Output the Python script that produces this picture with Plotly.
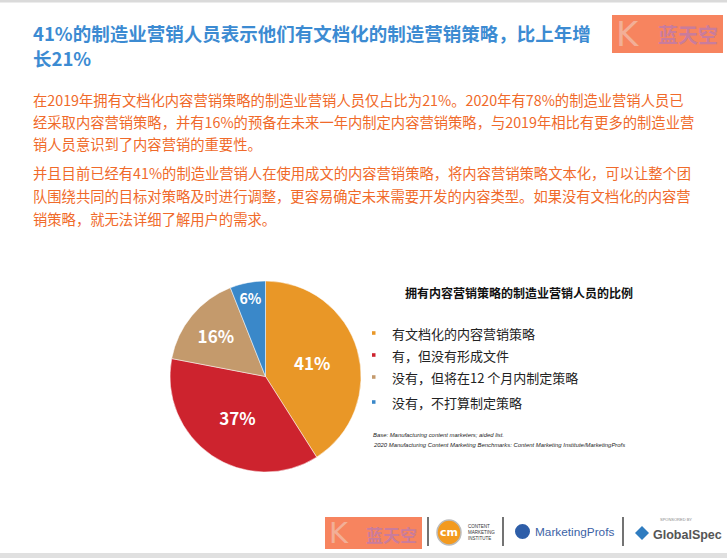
import plotly.graph_objects as go

# ---- data ----
labels = ["有文档化的内容营销策略", "有，但没有形成文件", "没有，但将在12 个月内制定策略", "没有，不打算制定策略"]
values = [41, 37, 16, 6]
colors = ["#E99727", "#CD232E", "#C49A6C", "#3A88C9"]

title_lines = ["41%的制造业营销人员表示他们有文档化的制造营销策略，比上年增", "长21%"]
para1 = ["在2019年拥有文档化内容营销策略的制造业营销人员仅占比为21%。2020年有78%的制造业营销人员已",
         "经采取内容营销策略，并有16%的预备在未来一年内制定内容营销策略，与2019年相比有更多的制造业营",
         "销人员意识到了内容营销的重要性。"]
para2 = ["并且目前已经有41%的制造业营销人在使用成文的内容营销策略，将内容营销策略文本化，可以让整个团",
         "队围绕共同的目标对策略及时进行调整，更容易确定未来需要开发的内容类型。如果没有文档化的内容营",
         "销策略，就无法详细了解用户的需求。"]
legend_title = "拥有内容营销策略的制造业营销人员的比例"
source_lines = ["Base: Manufacturing content marketers; aided list.",
                "2020 Manufacturing Content Marketing Benchmarks: Content Marketing Institute/MarketingProfs"]

W, H = 727, 558
FONT = "Noto Sans CJK SC"

def px(x):
    return x / W

def py(y):
    return 1 - y / H

fig = go.Figure()
fig.add_trace(go.Pie(
    labels=labels, values=values, sort=False, direction="clockwise", rotation=0,
    marker=dict(colors=colors, line=dict(color="white", width=0.5)),
    texttemplate="<b>%{value}%</b>", textposition="inside", insidetextorientation="horizontal",
    textfont=dict(color="white", size=17, family=FONT),
    domain=dict(x=[px(170), px(361)], y=[py(472), py(281)]),
    showlegend=False, hoverinfo="label+value",
))

ann = []
shapes = []

# title
for i, t in enumerate(title_lines):
    ann.append(dict(x=px(31), y=py(33 + 25 * i), xref="paper", yref="paper", xanchor="left", yanchor="middle",
                    text="<b>" + t + "</b>", showarrow=False,
                    font=dict(family=FONT, size=18.5, color="#3C8BD2")))

# paragraphs
for i, t in enumerate(para1):
    ann.append(dict(x=px(31), y=py(99.5 + 22 * i), xref="paper", yref="paper", xanchor="left", yanchor="middle",
                    text=t, showarrow=False, font=dict(family=FONT, size=14.3, color="#F06A2A")))
for i, t in enumerate(para2):
    ann.append(dict(x=px(31), y=py(172 + 23 * i), xref="paper", yref="paper", xanchor="left", yanchor="middle",
                    text=t, showarrow=False, font=dict(family=FONT, size=14.3, color="#F06A2A")))

# legend
ann.append(dict(x=px(519), y=py(292), xref="paper", yref="paper", xanchor="center", yanchor="middle",
                text="<b>" + legend_title + "</b>", showarrow=False,
                font=dict(family=FONT, size=12, color="#111111")))
leg_y = [333, 355, 377, 402]
for lab, col, yy in zip(labels, colors, leg_y):
    ann.append(dict(x=px(390), y=py(yy), xref="paper", yref="paper", xanchor="left", yanchor="middle",
                    text=lab, showarrow=False, font=dict(family=FONT, size=13, color="#222222")))
    shapes.append(dict(type="rect", xref="paper", yref="paper",
                       x0=px(372), x1=px(375.5), y0=py(yy + 1.8), y1=py(yy - 1.8),
                       fillcolor=col, line=dict(width=0)))
for i, t in enumerate(source_lines):
    ann.append(dict(x=px(371), y=py(435 + 9.5 * i), xref="paper", yref="paper", xanchor="left", yanchor="middle",
                    text="<i>" + t + "</i>", showarrow=False,
                    font=dict(family="Liberation Sans", size=5.9, color="#222222")))

# frame bands
shapes.append(dict(type="rect", xref="paper", yref="paper", x0=0, x1=1, y0=py(2.5), y1=1,
                   fillcolor="#DADADA", line=dict(width=0)))
shapes.append(dict(type="rect", xref="paper", yref="paper", x0=0, x1=1, y0=0, y1=py(553),
                   fillcolor="#E0E0E0", line=dict(width=0)))

# logo boxes "K 蓝天空"
def k_logo(x0, y0, x1, y1, ksize, tsize):
    shapes.append(dict(type="rect", xref="paper", yref="paper", x0=px(x0), x1=px(x1), y0=py(y1), y1=py(y0),
                       fillcolor="#F7845F", line=dict(width=0)))
    ann.append(dict(x=px(x0 + 2), y=py((y0 + y1) / 2), xref="paper", yref="paper", xanchor="left", yanchor="middle",
                    text="K", showarrow=False, font=dict(family="DejaVu Sans", size=ksize, color="#F2AF97")))
    ann.append(dict(x=px(x1 - 3), y=py((y0 + y1) / 2 + 1), xref="paper", yref="paper", xanchor="right", yanchor="middle",
                    text="<b>蓝天空</b>", showarrow=False, font=dict(family=FONT, size=tsize, color="#C97C9C")))

k_logo(612, 15, 723, 53, 34, 20)
k_logo(325, 517, 422, 549, 29, 17)

# separators
for xs in [428, 503, 623]:
    shapes.append(dict(type="line", xref="paper", yref="paper", x0=px(xs), x1=px(xs), y0=py(517), y1=py(546),
                       line=dict(color="#444444", width=1.5)))

# CMI logo
shapes.append(dict(type="circle", xref="paper", yref="paper", x0=px(437), x1=px(461), y0=py(545), y1=py(520),
                   fillcolor="#F39A1F", line=dict(color="#BBBBBB", width=1.5)))
ann.append(dict(x=px(449), y=py(532), xref="paper", yref="paper", xanchor="center", yanchor="middle",
                text="<b>cm</b>", showarrow=False, font=dict(family="DejaVu Sans", size=11, color="white")))
ann.append(dict(x=px(466), y=py(532), xref="paper", yref="paper", xanchor="left", yanchor="middle",
                text="CONTENT<br>MARKETING<br>INSTITUTE", showarrow=False, align="left",
                font=dict(family="Liberation Sans", size=4.5, color="#333333")))

# MarketingProfs logo
shapes.append(dict(type="circle", xref="paper", yref="paper", x0=px(515), x1=px(530), y0=py(539), y1=py(524),
                   fillcolor="#2E5EA8", line=dict(width=0)))
ann.append(dict(x=px(533), y=py(532), xref="paper", yref="paper", xanchor="left", yanchor="middle",
                text="MarketingProfs", showarrow=False,
                font=dict(family="Liberation Sans", size=11.8, color="#3B62A6")))

# GlobalSpec logo
ann.append(dict(x=px(676), y=py(519), xref="paper", yref="paper", xanchor="center", yanchor="middle",
                text="SPONSORED BY", showarrow=False, font=dict(family="Liberation Sans", size=4, color="#888888")))
shapes.append(dict(type="path", xref="paper", yref="paper",
                   path=f"M {px(635)},{py(533)} L {px(642)},{py(526)} L {px(649)},{py(533)} L {px(642)},{py(540)} Z",
                   fillcolor="#2F7CC0", line=dict(width=0)))
ann.append(dict(x=px(651), y=py(535), xref="paper", yref="paper", xanchor="left", yanchor="middle",
                text="<b>GlobalSpec</b>", showarrow=False,
                font=dict(family="Liberation Sans", size=12.5, color="#555555")))

fig.update_layout(
    width=W, height=H, margin=dict(l=0, r=0, t=0, b=0),
    paper_bgcolor="white", plot_bgcolor="white",
    annotations=ann, shapes=shapes, showlegend=False,
)

fig.write_html("out.html", config={"displayModeBar": False},
               post_script="document.body.style.margin='0';document.body.style.padding='0';document.body.style.overflow='hidden';")
